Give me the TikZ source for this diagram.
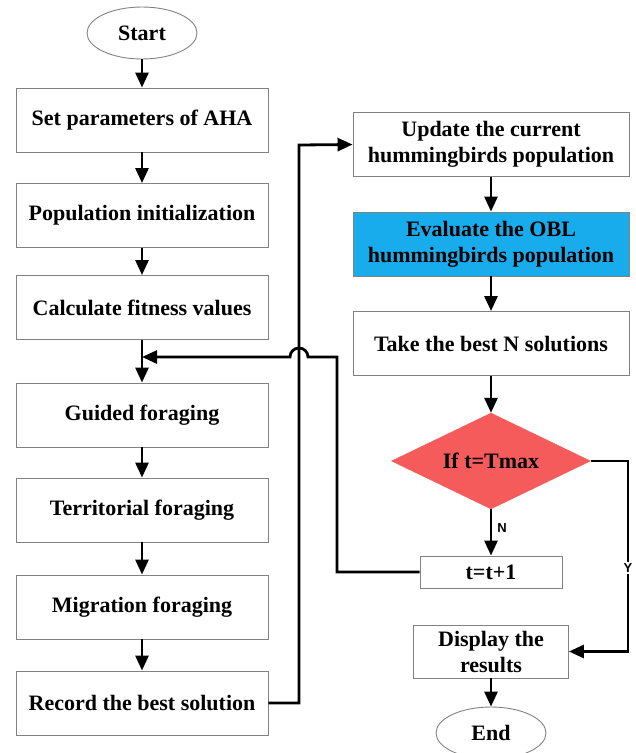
\documentclass[tikz,border=0pt]{standalone}
\usepackage{fontspec}
\setmainfont{Liberation Serif}
\setsansfont{Liberation Sans}
\usetikzlibrary{shapes.geometric,arrows.meta}

\definecolor{decred}{RGB}{245,91,91}
\definecolor{oblblue}{RGB}{25,172,236}
\definecolor{edgegray}{RGB}{130,130,130}

\begin{document}
\begin{tikzpicture}[x=1pt,y=-1pt,
  txt/.style={font=\fontsize{22}{26}\selectfont\bfseries, align=center, inner sep=0pt},
  lbox/.style={txt, draw=edgegray, line width=0.9pt, minimum width=252pt, minimum height=64pt},
  rbox/.style={txt, draw=edgegray, line width=0.9pt, minimum width=276pt, minimum height=64pt},
  term/.style={txt, ellipse, draw=edgegray, line width=0.9pt, minimum width=110pt, minimum height=52pt},
  decision/.style={txt, diamond, aspect=2, fill=decred, draw=decred, minimum width=199pt, minimum height=96pt},
  arr/.style={line width=2.8pt, -{Triangle[length=15pt,width=13pt]}},
  branch/.style={font=\sffamily\bfseries\fontsize{13}{15}\selectfont, inner sep=1pt}
]
\useasboundingbox (0,0) rectangle (636,753);

% left column
\node[term] (start) at (142,33) {Start};
\node[lbox] (par)  at (142,120)   {Set parameters of AHA};
\node[lbox] (init) at (142,215.5) {Population initialization};
\node[lbox] (fit)  at (142,307.5) {Calculate fitness values};
\node[lbox] (guid) at (142,415)   {Guided foraging};
\node[lbox] (terr) at (142,510)   {Territorial foraging};
\node[lbox] (migr) at (142,607)   {Migration foraging};
\node[lbox] (rec)  at (142,703)   {Record the best solution};

% right column
\node[rbox] (upd)  at (491,144.5) {Update the current\\hummingbirds population};
\node[rbox, fill=oblblue] (obl) at (491,244) {Evaluate the OBL\\hummingbirds population};
\node[rbox] (best) at (491,343.5) {Take the best N solutions};
\node[decision] (cond) at (491,461) {If t=Tmax};
\node[txt, draw=edgegray, line width=0.9pt, minimum width=142pt, minimum height=32pt] (incr) at (491,572) {t=t+1};
\node[txt, draw=edgegray, line width=0.9pt, minimum width=155pt, minimum height=53pt] (disp) at (491,651.5) {Display the\\results};
\node[term] (end) at (491,733) {End};

% bend points
\coordinate (join) at (142,357);
\coordinate (loopc) at (337,357);
\coordinate (hopR) at (308,357);
\coordinate (upc) at (299,145);
\coordinate (yc) at (628,651.5);

% main flow
\draw[arr] (start) -- (par);
\draw[arr] (par) -- (init);
\draw[arr] (init) -- (fit);
\draw[arr] (fit) -- (guid);
\draw[arr] (guid) -- (terr);
\draw[arr] (terr) -- (migr);
\draw[arr] (migr) -- (rec);
\draw[arr] (rec.east) -| (upc) -- (upd.west);
\draw[arr] (upd) -- (obl);
\draw[arr] (obl) -- (best);
\draw[arr] (best) -- (cond);
\draw[arr] (cond) -- node[branch, right=4pt, pos=0.4] {N} (incr);
\draw[arr] (incr.west) -| (loopc) -- (hopR) arc[start angle=0, end angle=-180, radius=9] -- (join);
\draw[arr] (cond.east) -| (yc) -- (disp.east);
\node[branch, fill=white, inner sep=2pt] (ylab) at (628,568) {Y};
\draw[arr] (disp) -- (end);
\end{tikzpicture}
\end{document}
